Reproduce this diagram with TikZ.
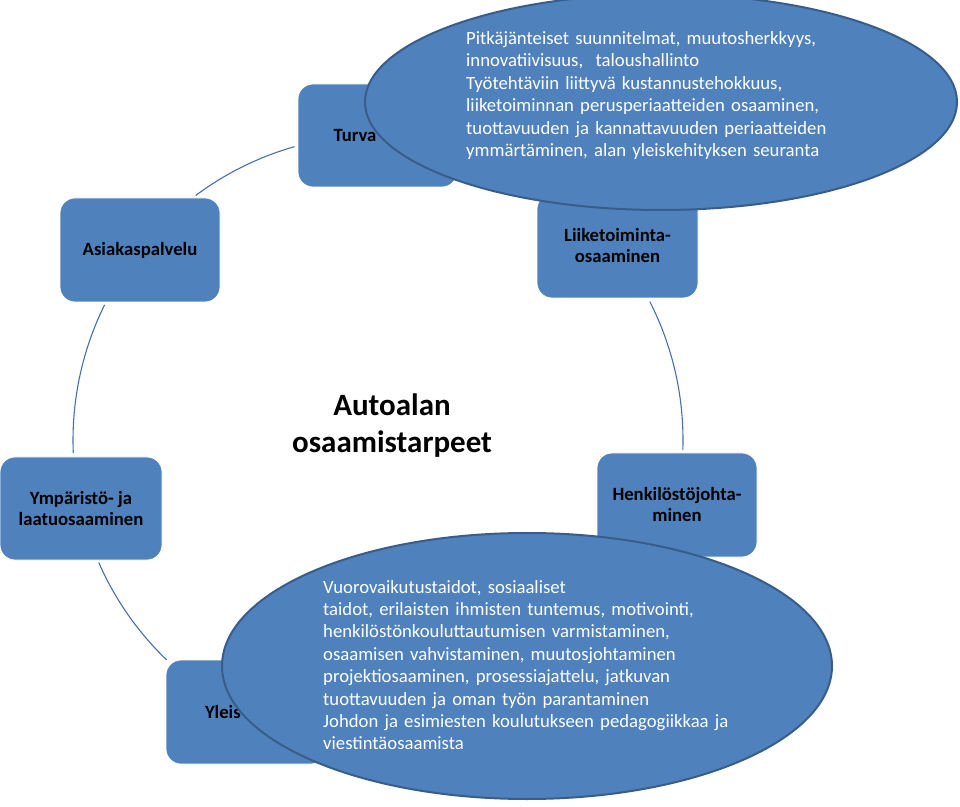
\documentclass[tikz,border=0pt]{standalone}
\usepackage{fontspec}
\setmainfont{Carlito}
\usetikzlibrary{shapes.geometric}
\definecolor{smblue}{RGB}{79,129,189}
\definecolor{smedge}{RGB}{56,93,138}
\definecolor{smline}{RGB}{72,112,166}
\begin{document}
\begin{tikzpicture}[x=1pt,y=1pt,
  stepbox/.style={draw=white, line width=0.8pt, fill=smblue, rounded corners=15pt,
    minimum width=160pt, minimum height=104pt, inner sep=0pt,
    font=\bfseries\fontsize{18.7}{21}\selectfont, text=black, align=center},
  bubble/.style={ellipse, draw=smedge, line width=2pt, fill=smblue, inner sep=0pt},
  bubbletext/.style={anchor=base west, inner sep=0pt, text=white, align=left,
    font=\fontsize{18.7}{22.4}\selectfont},
  ring/.style={draw=smline, line width=1.1pt},
  titletext/.style={font=\bfseries\fontsize{31}{37}\selectfont, align=center, text=black}]
\useasboundingbox (0,0) rectangle (960,806);
\coordinate (ctr) at (378,366);
% ring connectors
\draw[ring] ([shift={(105.9:305)}]ctr) arc[start angle=105.9, end angle=126.7, radius=305];
\draw[ring] ([shift={(153.7:305)}]ctr) arc[start angle=153.7, end angle=182.4, radius=305];
\draw[ring] ([shift={(203.7:305)}]ctr) arc[start angle=203.7, end angle=226.1, radius=305];
\draw[ring] ([shift={(27:305)}]ctr) arc[start angle=27, end angle=-1.9, radius=305];
% boxes
\node[stepbox, minimum width=159pt, minimum height=103pt, text width=88pt, align=left] (turva) at (377.5,670.5) {Turva};
\node[stepbox, minimum width=161pt] (liike) at (617.5,560) {Liiketoiminta-\\osaaminen};
\node[stepbox] (henk) at (677,301) {Henkilöstöjohta-\\minen};
\node[stepbox, text width=82pt, align=left] (yleis) at (246,94) {Yleis};
\node[stepbox, minimum width=162pt, minimum height=103pt] (ymp) at (81,297.5) {Ympäristö- ja\\laatuosaaminen};
\node[stepbox] (asiakas) at (140,556) {Asiakaspalvelu};
% title
\node[titletext] (title) at (392,380.5) {Autoalan\\osaamistarpeet};
% callout ellipses
\node[bubble, minimum width=592pt, minimum height=216pt] (e1) at (661,704) {};
\node[bubble, minimum width=610pt, minimum height=266pt] (e2) at (527,140) {};
\node[bubbletext, text width=440pt] (t1) at (466,761.5) {Pitkäjänteiset suunnitelmat, muutosherkkyys,\\
innovatiivisuus,\ \ taloushallinto\\
Työtehtäviin liittyvä kustannustehokkuus,\\
liiketoiminnan perusperiaatteiden osaaminen,\\
tuottavuuden ja kannattavuuden periaatteiden\\
ymmärtäminen, alan yleiskehityksen seuranta};
\node[bubbletext, text width=460pt] (t2) at (323,213) {Vuorovaikutustaidot, sosiaaliset\\
taidot, erilaisten ihmisten tuntemus, motivointi,\\
henkilöstönkouluttautumisen varmistaminen,\\
osaamisen vahvistaminen, muutosjohtaminen\\
projektiosaaminen, prosessiajattelu, jatkuvan\\
tuottavuuden ja oman työn parantaminen\\
Johdon ja esimiesten koulutukseen pedagogiikkaa ja\\
viestintäosaamista};
\end{tikzpicture}
\end{document}
